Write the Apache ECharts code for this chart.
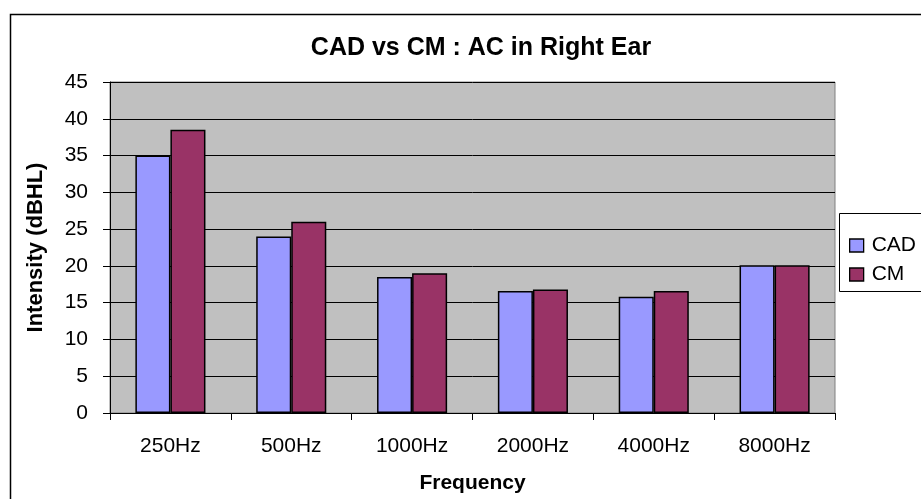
<!DOCTYPE html>
<html>
<head>
<meta charset="utf-8">
<script src="https://cdn.jsdelivr.net/npm/echarts@6/dist/echarts.min.js"></script>
<style>
html,body{margin:0;padding:0;background:#fff;}
#chart{width:921px;height:499px;}
</style>
</head>
<body>
<div id="chart"></div>
<script>
const categories = ['250Hz','500Hz','1000Hz','2000Hz','4000Hz','8000Hz'];
const cadValues = [35.0, 24.0, 18.5, 16.6, 15.8, 20.1];
const cmValues  = [38.5, 26.0, 19.0, 16.8, 16.6, 20.1];
const seriesNames = ['CAD','CM'];

const chart = echarts.init(document.getElementById('chart'), null, {renderer:'canvas'});
const font = '"Liberation Sans", Arial, sans-serif';
chart.setOption({
  animation:false,
  backgroundColor:'#fff',
  title:{
    text:'CAD vs CM : AC in Right Ear',
    left:476, top:31, textAlign:'center',
    textStyle:{fontFamily:font,fontWeight:'bold',fontSize:25,color:'#000'}
  },
  graphic:[{
    type:'rect', left:8, top:12, shape:{width:940,height:520},
    style:{fill:'none',stroke:'#000',lineWidth:1.5}, z:-1
  },{
    type:'rect', left:839, top:213, shape:{width:100,height:78},
    style:{fill:'#fff',stroke:'#000',lineWidth:1}, z:5
  }],
  legend:{
    data:seriesNames, orient:'vertical', left:849, top:235, padding:0,
    itemWidth:14, itemHeight:13, itemGap:8, icon:'rect', z:10,
    textStyle:{fontFamily:font,fontSize:21,color:'#000',padding:[0,0,0,3]},
    itemStyle:{borderColor:'#000',borderWidth:1.3}
  },
  grid:{left:110,right:86,top:82,bottom:85,show:true,backgroundColor:'#C0C0C0',borderColor:'#808080',borderWidth:1},
  xAxis:{
    type:'category', data:categories,
    name:'Frequency', nameLocation:'middle', nameGap:60,
    nameTextStyle:{fontFamily:font,fontWeight:'bold',fontSize:21,color:'#000'},
    axisLine:{lineStyle:{color:'#000',width:1}},
    axisTick:{show:true,length:7,lineStyle:{color:'#000'}},
    axisLabel:{fontFamily:font,fontSize:21,color:'#000',margin:23}
  },
  yAxis:{
    type:'value', min:0, max:45, interval:5,
    name:'Intensity (dBHL)', nameLocation:'middle', nameGap:63,
    nameTextStyle:{fontFamily:font,fontWeight:'bold',fontSize:22,color:'#000'},
    axisLine:{show:true,lineStyle:{color:'#000',width:1}},
    axisTick:{show:true,length:7,lineStyle:{color:'#000'}},
    axisLabel:{fontFamily:font,fontSize:21,color:'#000',margin:22},
    splitLine:{lineStyle:{color:'#000',width:1}}
  },
  series:[{
    name:'CAD', type:'bar', data:cadValues, barGap:'0%', barCategoryGap:'42%',
    itemStyle:{color:'#9999FF',borderColor:'#000',borderWidth:1.5}
  },{
    name:'CM', type:'bar', data:cmValues,
    itemStyle:{color:'#993366',borderColor:'#000',borderWidth:1.5}
  }]
});
</script>
</body>
</html>
